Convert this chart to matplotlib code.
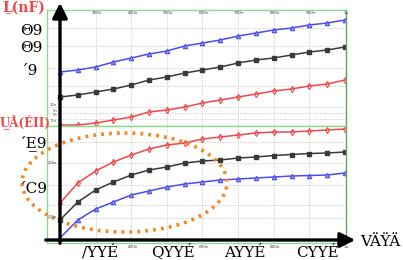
import numpy as np, matplotlib
matplotlib.use("Agg"); import matplotlib.pyplot as plt
from matplotlib.patches import Ellipse

# sweep (ns), 17 points every 50n
t = [200, 250, 300, 350, 400, 450, 500, 550, 600, 650, 700, 750, 800, 850, 900, 950, 1000]
# upper panel (arbitrary units)
up_blue  = [54, 56, 59, 64, 68, 72, 75, 80, 83, 86, 90, 93, 96, 98, 101, 103, 106]
up_black = [29, 31, 34, 37, 41, 46, 49, 53, 56, 59, 63, 66, 68, 71, 74, 76, 79]
up_red   = [1, 1, 3, 6, 9, 14, 16, 19, 23, 26, 29, 32, 35, 37, 40, 42, 46]
# lower panel
lo_red   = [40, 60, 72, 81, 88, 94, 98, 100, 104, 106, 108, 110, 111, 111, 112, 113, 114]
lo_black = [23, 41, 53, 61, 68, 73, 76, 80, 82, 83, 85, 86, 87.5, 88.5, 89.5, 90, 91]
lo_blue  = [5, 23, 34, 41, 48, 52, 56, 59, 61, 63, 64, 65, 66, 67, 67.5, 68, 70]

top_ticks = ["300n", "400n", "500n", "600n", "700n", "800n", "900n", "1u"]
big_xlabels = ["/YYÉ\u0332", "QYYÉ\u0332", "AYYÉ\u0332", "CYYÉ\u0332"]
small_xlabels = ["400n", "600n", "800n", "1u"]
small_ylabels = ["10n", "5n", "0n", "-5n", "200n", "200n"]

W, H = 403, 260
BLU = "#4b4bf0"; BLK = "#3a3a3a"; RED = "#f04848"; GRN = "#8fd88f"; ORG = "#f08a24"; GRID = "#c8c8c8"

fig = plt.figure(figsize=(W/100, H/100), dpi=100)

def px_ax(l, t_, r, b):
    return fig.add_axes([l/W, 1-b/H, (r-l)/W, (b-t_)/H])

XL = (200 - 13*800/285, 1000 + 1*800/285)

a1 = px_ax(47, 10, 346, 126)
a2 = px_ax(47, 126, 346, 243)
for a, ylim in ((a1, (0, 116)), (a2, (0, 117))):
    a.set_xlim(*XL); a.set_ylim(*ylim)
    a.set_xticks([]); a.set_yticks([])
    for s in a.spines.values():
        s.set_color(GRN); s.set_linewidth(1)
    a.spines["right"].set_color("#5aa85a")
    for xv in range(300, 1000, 100):
        a.axvline(xv, color=GRID, lw=0.6, ls=(0, (1.5, 1.5)), zorder=0)
for yv in [98, 80, 58, 40, 19, 13, 7]:
    a1.axhline(yv, color=GRID, lw=0.6, ls=(0, (1.5, 1.5)), zorder=0)
for yv in [101, 80, 58, 38, 25]:
    a2.axhline(yv, color=GRID, lw=0.6, ls=(0, (1.5, 1.5)), zorder=0)

kw = dict(lw=1.1, ms=3.2, mew=0.8)
a1.plot(t, up_blue, color=BLU, marker="^", mfc="#9a9af8", **kw)
a1.plot(t, up_black, color=BLK, marker="s", ms=2.4, lw=1.1)
a1.plot(t, up_red, color=RED, marker="d", mfc="none", **kw)
a2.plot(t, lo_red, color=RED, marker="d", mfc="none", **kw)
a2.plot(t, lo_black, color=BLK, marker="s", ms=2.4, lw=1.1)
a2.plot(t, lo_blue, color=BLU, marker="^", mfc="#9a9af8", **kw)

# overlay in pixel coordinates for the hand-drawn decorations
o = fig.add_axes([0, 0, 1, 1]); o.set_xlim(0, W); o.set_ylim(H, 0); o.axis("off")
o.add_patch(Ellipse((124.5, 182.5), 205, 99, fill=False, ec=ORG, lw=2.6,
                    ls=(0, (0.8, 1.4))))
o.annotate("", xy=(60, 0), xytext=(60, 246),
           arrowprops=dict(arrowstyle="-|>,head_length=0.9,head_width=0.45", color="black", lw=2.4))
o.annotate("", xy=(358, 240), xytext=(43, 240),
           arrowprops=dict(arrowstyle="-|>,head_length=0.9,head_width=0.45", color="black", lw=2.4))

# tiny scope tick labels
for i, s in enumerate(top_ticks):
    o.text(97 + i*35.6, 13, s, fontsize=3.0, ha="center", va="center", color="#444")
for i, s in enumerate(small_xlabels):
    o.text(133 + i*71.2, 247, s, fontsize=3.0, ha="center", va="center", color="#444")
for y, s in zip([105, 110.5, 115.5, 121, 163, 217], small_ylabels):
    o.text(57, y, s, fontsize=2.6, ha="right", va="center", color="#444")

# garbled axis labels as in the original
serif = dict(family="DejaVu Serif", fontsize=11, color="black")
o.text(2, 8, "\u1E3A(nF)", family="DejaVu Serif", fontsize=10, color=RED, va="center", fontweight="bold")
o.text(0, 122, "U\u0332\u00C5(ÉII)", family="DejaVu Serif", fontsize=8.6, color=RED, va="center", fontweight="bold")
o.text(20, 31, "\u03989", va="center", **serif)
o.text(20, 48, "\u03989", va="center", **serif)
o.text(20, 71, "\u02CA9", va="center", **serif)
o.text(18, 143, "\u02CAE\u03329", va="center", **serif)
o.text(18, 189, "\u02CAC9", va="center", **serif)
for i, s in enumerate(big_xlabels):
    o.text(100 + i*72.5, 251, s, ha="center", va="center", **serif)
o.text(360, 242, "VÄŸÄ", va="center", **serif)

plt.savefig("out.png", dpi=100)
